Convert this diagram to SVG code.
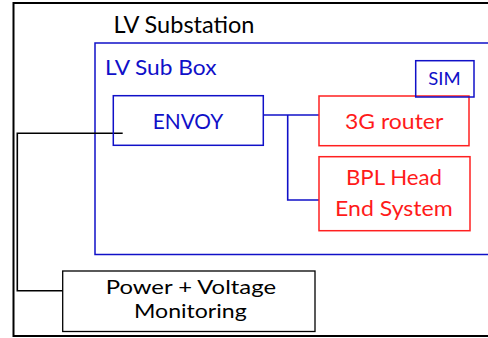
<svg xmlns="http://www.w3.org/2000/svg" width="488" height="338" viewBox="0 0 488 338">
<style>
text{font-family:Lato,"Liberation Sans","DejaVu Sans",sans-serif;}
.blk{fill:#000}
.blu{fill:#1010C8}
.red{fill:#FF1A1A}
.bbox{fill:none;stroke:#1010C8;stroke-width:1.5}
.rbox{fill:none;stroke:#FF2020;stroke-width:1.5}
.kbox{fill:#fff;stroke:#000;stroke-width:1.3}
.bl{fill:none;stroke:#1010C8;stroke-width:1.6}
.kl{fill:none;stroke:#000;stroke-width:1.6}
</style>
<rect x="0" y="0" width="488" height="338" fill="#fff"/>
<g id="lv-substation">
<rect x="13.5" y="3" width="480" height="333" fill="none" stroke="#000" stroke-width="2"/>
<text x="113.5" y="32.7" font-size="22.5" class="blk" textLength="141" lengthAdjust="spacingAndGlyphs">LV Substation</text>
</g>
<g id="lv-sub-box">
<rect x="95" y="43" width="400" height="211.5" class="bbox"/>
<text x="105" y="75" font-size="22" class="blu" textLength="111.5" lengthAdjust="spacingAndGlyphs">LV Sub Box</text>
</g>
<g id="connectors">
<polyline points="263.3,115 319,115" class="bl"/>
<polyline points="287.7,115 287.7,200 319,200" class="bl"/>
<polyline points="122.7,133.3 17.3,133.3 17.3,290.7 66.7,290.7" class="kl"/>
</g>
<g id="envoy">
<rect x="113.3" y="95.7" width="150" height="49.6" class="bbox"/>
<text x="152.7" y="129" font-size="21.5" class="blu" textLength="70.6" lengthAdjust="spacingAndGlyphs">ENVOY</text>
</g>
<g id="router-3g">
<rect x="319" y="96" width="150" height="49.7" class="rbox"/>
<text x="345" y="129" font-size="22" class="red" textLength="98.3" lengthAdjust="spacingAndGlyphs">3G router</text>
</g>
<g id="sim">
<rect x="415.7" y="60.7" width="58.3" height="36.3" fill="none" stroke="#1010C8" stroke-width="1.5"/>
<text x="428.3" y="85" font-size="18" class="blu" textLength="32.4" lengthAdjust="spacingAndGlyphs">SIM</text>
</g>
<g id="bpl-head-end">
<rect x="319" y="156.7" width="151" height="74" class="rbox"/>
<text x="346" y="185" font-size="22" class="red" textLength="96" lengthAdjust="spacingAndGlyphs">BPL Head</text>
<text x="335" y="216" font-size="22" class="red" textLength="117.7" lengthAdjust="spacingAndGlyphs">End System</text>
</g>
<g id="power-voltage">
<rect x="62.7" y="271" width="252.3" height="60.5" class="kbox"/>
<text x="105.7" y="294" font-size="20" class="blk" textLength="170.3" lengthAdjust="spacingAndGlyphs">Power + Voltage</text>
<text x="134" y="318" font-size="20" class="blk" textLength="112.7" lengthAdjust="spacingAndGlyphs">Monitoring</text>
</g>
</svg>
